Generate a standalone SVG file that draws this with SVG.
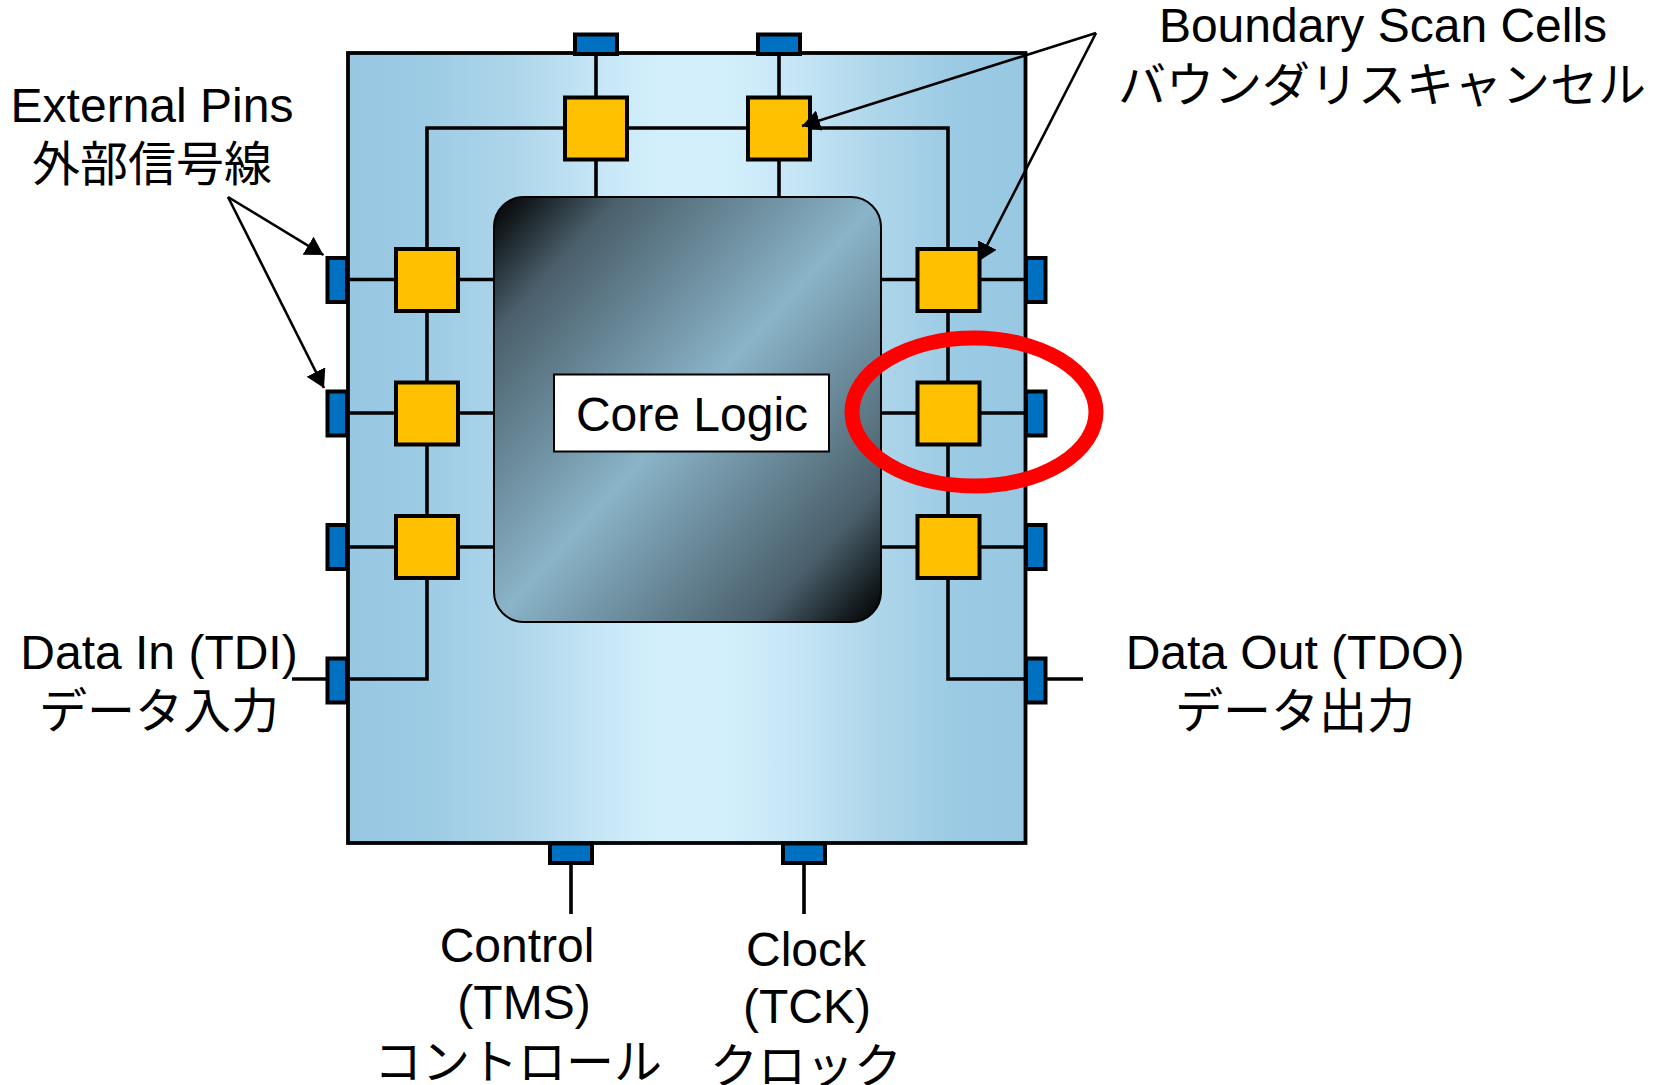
<svg xmlns="http://www.w3.org/2000/svg" width="1654" height="1085" viewBox="0 0 1654 1085">
<style>
.cell{fill:#ffc000;stroke:#000;stroke-width:4}
.pin{fill:#0070c0;stroke:#000;stroke-width:4}
.wire{fill:none;stroke:#000;stroke-width:3.6}
.arrow{fill:none;stroke:#000;stroke-width:2.6;marker-end:url(#head)}
text{font-family:"Liberation Sans","Noto Sans CJK JP",sans-serif;font-size:48px;fill:#000;text-anchor:middle}
.ja{font-family:"Noto Sans CJK JP","Liberation Sans",sans-serif}
</style>
<defs>
<linearGradient id="chipFill" x1="0" y1="0" x2="1" y2="0">
<stop offset="0" stop-color="#97c7e2"/><stop offset="0.1" stop-color="#9bcae4"/><stop offset="0.25" stop-color="#aed6ea"/><stop offset="0.37" stop-color="#c6e6f6"/><stop offset="0.46" stop-color="#d3effc"/><stop offset="0.56" stop-color="#d3effc"/><stop offset="0.66" stop-color="#c6e6f6"/><stop offset="0.78" stop-color="#aed6ea"/><stop offset="0.9" stop-color="#9bcae4"/><stop offset="1" stop-color="#97c7e2"/>
</linearGradient>
<linearGradient id="coreFill" x1="0" y1="0" x2="1" y2="1">
<stop offset="0" stop-color="#000"/><stop offset="0.05" stop-color="#141b1f"/><stop offset="0.16" stop-color="#4a5f6b"/><stop offset="0.5" stop-color="#8ab4c8"/><stop offset="0.84" stop-color="#4a5f6b"/><stop offset="0.95" stop-color="#141b1f"/><stop offset="1" stop-color="#000"/>
</linearGradient>
<marker id="head" markerUnits="userSpaceOnUse" markerWidth="18" markerHeight="21" refX="18" refY="10.5" orient="auto"><path d="M0,0L18,10.5L0,21z" fill="#000"/></marker>
</defs>
<g id="chip"><rect x="348" y="53" width="677.5" height="790" fill="url(#chipFill)" stroke="#000" stroke-width="3.8"/></g>
<g id="connectors">
<path class="wire" d="M292,679H427V128H779M779,128H948V679H1083"/>
<path class="wire" d="M346,279.5H494M346,413H494M346,547H494M881,279.5H1026M881,413H1026M881,547H1026"/>
<path class="wire" d="M596,54V197M779,54V197M571,864V914M804,864V914"/>
</g>
<g id="pin-top-1"><rect class="pin" x="575" y="34.500" width="42" height="19.500"/></g>
<g id="pin-top-2"><rect class="pin" x="758" y="34.500" width="42" height="19.500"/></g>
<g id="pin-left-1"><rect class="pin" x="327.500" y="258" width="19.500" height="44"/></g>
<g id="pin-left-2"><rect class="pin" x="327.500" y="391.500" width="19.500" height="44"/></g>
<g id="pin-left-3"><rect class="pin" x="327.500" y="525" width="19.500" height="44"/></g>
<g id="pin-left-4"><rect class="pin" x="327.500" y="658.500" width="19.500" height="44"/></g>
<g id="pin-right-1"><rect class="pin" x="1026" y="258" width="19.500" height="44"/></g>
<g id="pin-right-2"><rect class="pin" x="1026" y="391.500" width="19.500" height="44"/></g>
<g id="pin-right-3"><rect class="pin" x="1026" y="525" width="19.500" height="44"/></g>
<g id="pin-right-4"><rect class="pin" x="1026" y="658.500" width="19.500" height="44"/></g>
<g id="pin-bottom-1"><rect class="pin" x="550" y="843.500" width="42" height="19.500"/></g>
<g id="pin-bottom-2"><rect class="pin" x="783" y="843.500" width="42" height="19.500"/></g>
<g id="cell-top-1"><rect class="cell" x="565" y="97.500" width="62" height="62"/></g>
<g id="cell-top-2"><rect class="cell" x="748" y="97.500" width="62" height="62"/></g>
<g id="cell-left-1"><rect class="cell" x="396" y="249" width="62" height="62"/></g>
<g id="cell-left-2"><rect class="cell" x="396" y="382.500" width="62" height="62"/></g>
<g id="cell-left-3"><rect class="cell" x="396" y="516" width="62" height="62"/></g>
<g id="cell-right-1"><rect class="cell" x="917.500" y="249" width="62" height="62"/></g>
<g id="cell-right-2"><rect class="cell" x="917.500" y="382.500" width="62" height="62"/></g>
<g id="cell-right-3"><rect class="cell" x="917.500" y="516" width="62" height="62"/></g>
<g id="core"><rect x="494" y="197" width="387" height="425" rx="30" fill="url(#coreFill)" stroke="#000" stroke-width="2"/>
<rect x="554" y="374.500" width="275" height="77" fill="#fff" stroke="#000" stroke-width="2"/>
<text x="692" y="431">Core Logic</text></g>
<g id="highlight"><ellipse cx="974" cy="412" rx="122" ry="74" fill="none" stroke="#f00" stroke-width="15"/></g>
<g id="arrows">
<path class="arrow" d="M1096,33L802,126"/>
<path class="arrow" d="M1096,33L979,261"/>
<path class="arrow" d="M228,197L323.500,255"/>
<path class="arrow" d="M228,197L324,388"/>
</g>
<g id="labels">
<text x="152" y="122">External Pins</text>
<text class="ja" x="152" y="181">外部信号線</text>
<text x="1383" y="42">Boundary Scan Cells</text>
<text class="ja" x="1382" y="102">バウンダリスキャンセル</text>
<text x="159" y="669">Data In (TDI)</text>
<text class="ja" x="159" y="728">データ入力</text>
<text x="1295" y="669">Data Out (TDO)</text>
<text class="ja" x="1295" y="728">データ出力</text>
<text x="517" y="962">Control</text>
<text x="524" y="1019">(TMS)</text>
<text class="ja" x="518" y="1079">コントロール</text>
<text x="806" y="966">Clock</text>
<text x="807" y="1023">(TCK)</text>
<text class="ja" x="806" y="1083">クロック</text>
</g>
</svg>
